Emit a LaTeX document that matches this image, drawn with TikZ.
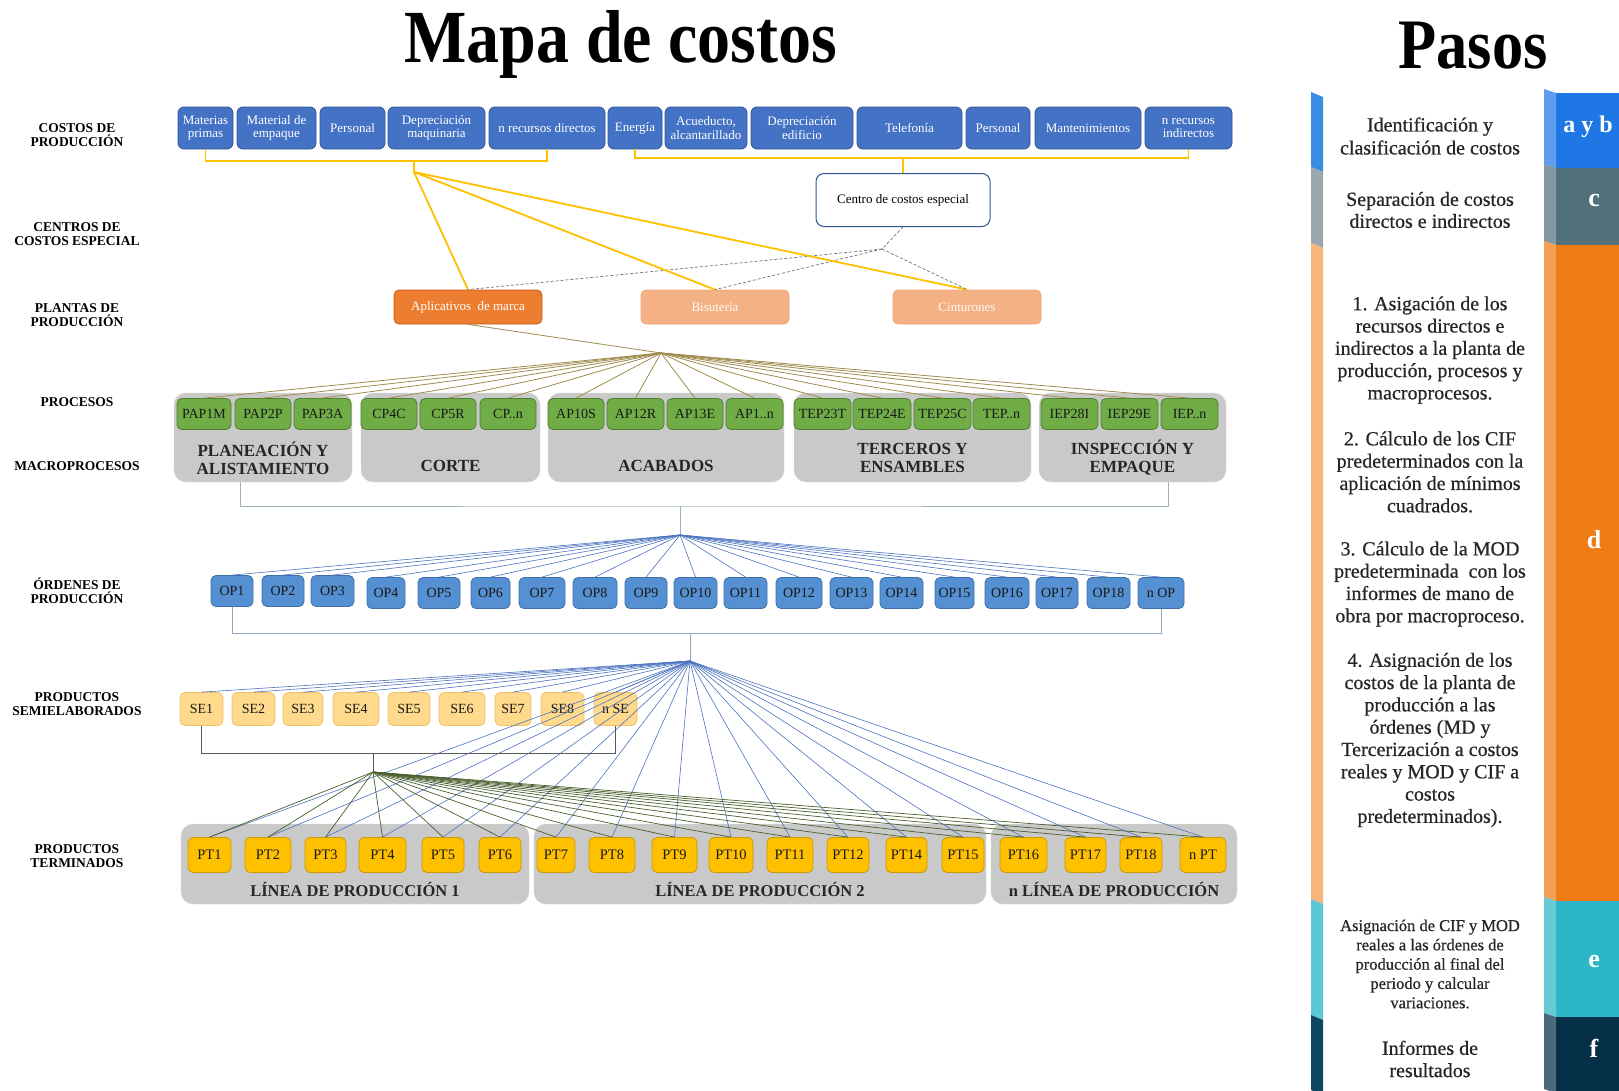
\documentclass[tikz,border=0pt]{standalone}
\usepackage{fontspec}
\usepackage{graphicx}
\setmainfont{Liberation Serif}
\newfontfamily\stepfont{Liberation Serif}[FakeBold=0.6]

\definecolor{costblue}{HTML}{4472C4}
\definecolor{costline}{HTML}{2F5597}
\definecolor{plantA}{HTML}{ED7D31}
\definecolor{plantAline}{HTML}{C55A11}
\definecolor{plantB}{HTML}{F4B183}
\definecolor{plantBline}{HTML}{EFA578}
\definecolor{procgreen}{HTML}{70AD47}
\definecolor{procline}{HTML}{507E32}
\definecolor{macrogray}{HTML}{C9C9C9}
\definecolor{opblue}{HTML}{5590D2}
\definecolor{opline}{HTML}{3E6FA8}
\definecolor{semiyellow}{HTML}{FFD98C}
\definecolor{semiline}{HTML}{F0C26A}
\definecolor{termyellow}{HTML}{FFC000}
\definecolor{termline}{HTML}{C99A06}
\definecolor{goldcol}{HTML}{FFC000}
\definecolor{procwirecol}{HTML}{A08C4F}
\definecolor{bluewirecol}{HTML}{4A72C0}
\definecolor{macrobrcol}{HTML}{9FB3BF}
\definecolor{opbrcol}{HTML}{8EA6C2}
\definecolor{greenwirecol}{HTML}{4B5F2D}
\definecolor{thinab}{HTML}{3B8DE3}
\definecolor{thinc}{HTML}{9AA8AE}
\definecolor{thind}{HTML}{F6B67C}
\definecolor{thine}{HTML}{5CC8D7}
\definecolor{thinf}{HTML}{0F4661}
\definecolor{stepab}{HTML}{1F77E6}
\definecolor{stepc}{HTML}{52707B}
\definecolor{stepd}{HTML}{EE7B14}
\definecolor{stepe}{HTML}{2DB6C8}
\definecolor{stepf}{HTML}{062F48}

\begin{document}
\begin{tikzpicture}[x=1pt,y=-1pt,
    headline/.style={font=\bfseries\fontsize{75}{80}\selectfont},
    rowlabel/.style={font=\bfseries\fontsize{13.5}{14.5}\selectfont,align=center},
    costbox/.style={draw=costline,fill=costblue,line width=.8pt,rounded corners=6pt,
      text=white,align=center,inner sep=1pt,minimum height=42pt,
      font=\fontsize{13}{13.5}\selectfont},
    centrobox/.style={draw=costline,fill=white,line width=1pt,rounded corners=8pt,
      minimum width=174pt,minimum height=53pt,font=\fontsize{13}{14}\selectfont},
    plantbox/.style={rounded corners=5pt,line width=.8pt,minimum width=148pt,
      minimum height=34pt,font=\fontsize{13}{14}\selectfont},
    procbox/.style={draw=procline,fill=procgreen,line width=.8pt,rounded corners=5pt,
      minimum height=31pt,inner sep=1pt,text=black!90,font=\fontsize{14}{15}\selectfont},
    macrobox/.style={fill=macrogray,draw=black!15,rounded corners=12pt,minimum height=89pt},
    macrolabel/.style={font=\bfseries\fontsize{17}{18}\selectfont,align=center,text=black!85},
    opbox/.style={draw=opline,fill=opblue,line width=.8pt,rounded corners=5pt,
      minimum height=31pt,inner sep=1pt,text=black!90,font=\fontsize{14}{15}\selectfont},
    semibox/.style={draw=semiline,fill=semiyellow,line width=.8pt,rounded corners=5pt,
      minimum height=33pt,inner sep=1pt,text=black!90,font=\fontsize{14}{15}\selectfont},
    termbox/.style={draw=termline,fill=termyellow,line width=.8pt,rounded corners=5pt,
      minimum height=35pt,inner sep=1pt,text=black!90,font=\fontsize{14.5}{15}\selectfont},
    linebox/.style={fill=macrogray,draw=black!15,rounded corners=12pt,minimum height=80pt},
    goldwire/.style={draw=goldcol,line width=1.8pt},
    dashwire/.style={draw=black!55,line width=.7pt,dash pattern=on 3pt off 2pt},
    procwire/.style={draw=procwirecol,line width=.8pt},
    bluewire/.style={draw=bluewirecol,line width=.6pt},
    greenwire/.style={draw=greenwirecol,line width=.7pt},
    macrobracket/.style={draw=macrobrcol,line width=1pt},
    opbracket/.style={draw=opbrcol,line width=1pt},
    semibracket/.style={draw=black!65,line width=.8pt},
    steptext/.style={text=black!85,align=center,font=\stepfont\fontsize{20}{22.3}\selectfont},
    stepletter/.style={text=white,font=\bfseries\fontsize{26}{28}\selectfont}]

  \useasboundingbox (0,0) rectangle (1619,1090);
  \fill[white] (0,0) rectangle (1619,1090);

  % titles
  \node[headline,anchor=base] (maptitle) at (621,62) {\scalebox{0.88}[1]{Mapa de costos}};
  \node[headline,anchor=base,font=\bfseries\fontsize{71}{76}\selectfont] (steptitle) at (1473,68)
    {\scalebox{0.88}[1]{Pasos}};

  % row labels
  \node[rowlabel] (rl1) at (77,135) {COSTOS DE\\PRODUCCIÓN};
  \node[rowlabel] (rl2) at (77,234) {CENTROS DE\\COSTOS ESPECIAL};
  \node[rowlabel] (rl3) at (77,315) {PLANTAS DE\\PRODUCCIÓN};
  \node[rowlabel] (rl4) at (77,402) {PROCESOS};
  \node[rowlabel] (rl5) at (77,466) {MACROPROCESOS};
  \node[rowlabel] (rl6) at (77,591) {ÓRDENES DE\\PRODUCCIÓN};
  \node[rowlabel] (rl7) at (77,704) {PRODUCTOS\\SEMIELABORADOS};
  \node[rowlabel] (rl8) at (77,856) {PRODUCTOS\\TERMINADOS};

  % costs
  \foreach \a/\b/\t [count=\i] in {178/233/{Materias\\primas},237/316/{Material de\\empaque},
      320/385/Personal,388/485/{Depreciación\\maquinaria},489/605/{n recursos directos},
      608/662/Energía,665/747/{Acueducto,\\alcantarillado},751/853/{Depreciación\\edificio},
      857/962/Telefonía,966/1030/Personal,1035/1141/Mantenimientos,
      1145/1232/{n recursos\\indirectos}}
    \node[costbox,minimum width={(\b-\a)*1pt}] (cost\i) at ({(\a+\b)/2},128) {\t};

  \node[centrobox] (centro) at (903,200) {Centro de costos especial};

  % plants
  \node[plantbox,draw=plantAline,fill=plantA,text=white] (apl) at (468,307) {Aplicativos\ \ de marca};
  \node[plantbox,draw=plantBline,fill=plantB,text=white!92!plantB] (bis) at (715,307) {Bisutería};
  \node[plantbox,draw=plantBline,fill=plantB,text=white!92!plantB] (cin) at (967,307) {Cinturones};

  % macroprocesses
  \foreach \a/\b/\t/\y [count=\i] in {174/352/{PLANEACIÓN Y\\ALISTAMIENTO}/458,361/540/CORTE/466,
      548/784/ACABADOS/466,794/1031/{TERCEROS Y\\ENSAMBLES}/458,1039/1226/{INSPECCIÓN Y\\EMPAQUE}/458}
  {
    \node[macrobox,minimum width={(\b-\a)*1pt}] (macro\i) at ({(\a+\b)/2},437.5) {};
    \node[macrolabel] (macrot\i) at ({(\a+\b)/2},\y) {\t};
  }

  % processes
  \foreach \a/\b/\t [count=\i] in {177/231/PAP1M,235/291/PAP2P,294/351/PAP3A,361/417/CP4C,
      420/476/CP5R,480/536/{CP..n},548/604/AP10S,607/664/AP12R,667/723/AP13E,726/783/{AP1..n},
      794/851/TEP23T,853/911/TEP24E,914/971/TEP25C,973/1030/{TEP..n},1041/1098/IEP28I,
      1101/1158/IEP29E,1161/1218/{IEP..n}}
    \node[procbox,minimum width={(\b-\a)*1pt}] (proc\i) at ({(\a+\b)/2},414) {\t};

  % orders
  \foreach \a/\b/\t/\y [count=\i] in {211/253/OP1/591,262/304/OP2/591,311/354/OP3/591,
      367/405/OP4/593,418/460/OP5/593,471/510/OP6/593,519/565/OP7/593,573/617/OP8/593,
      625/667/OP9/593,674/717/OP10/593,724/767/OP11/593,776/822/OP12/593,830/873/OP13/593,
      880/923/OP14/593,935/974/OP15/593,985/1029/OP16/593,1036/1078/OP17/593,
      1087/1130/OP18/593,1138/1184/{n OP}/593}
    \node[opbox,minimum width={(\b-\a)*1pt}] (op\i) at ({(\a+\b)/2},\y) {\t};

  % semi-finished
  \foreach \a/\b/\t [count=\i] in {180/223/SE1,232/275/SE2,283/323/SE3,333/379/SE4,388/430/SE5,
      439/485/SE6,495/531/SE7,541/584/SE8,594/637/{n SE}}
    \node[semibox,minimum width={(\b-\a)*1pt}] (se\i) at ({(\a+\b)/2},709) {\t};

  % production lines
  \foreach \a/\b/\t [count=\i] in {181/529/{LÍNEA DE PRODUCCIÓN 1},534/986/{LÍNEA DE PRODUCCIÓN 2},
      991/1237/{n LÍNEA DE PRODUCCIÓN}}
  {
    \node[linebox,minimum width={(\b-\a)*1pt}] (lin\i) at ({(\a+\b)/2},864) {};
    \node[macrolabel,font=\bfseries\fontsize{16.5}{17}\selectfont] (lint\i) at ({(\a+\b)/2},889) {\t};
  }

  % finished
  \foreach \a/\b/\t [count=\i] in {188/231/PT1,245/291/PT2,305/346/PT3,359/406/PT4,422/464/PT5,
      479/521/PT6,537/575/PT7,589/635/PT8,652/697/PT9,709/753/PT10,767/813/PT11,827/869/PT12,
      886/927/PT14,942/984/PT15,1000/1047/PT16,1065/1106/PT17,1120/1162/PT18,1180/1226/{n PT}}
    \node[termbox,minimum width={(\b-\a)*1pt}] (pt\i) at ({(\a+\b)/2},855) {\t};

  % connectors
  \coordinate (costdir) at (414,161);
  \coordinate (hubdir) at (414,172);
  \coordinate (costind) at (903,158);
  \coordinate (hubesp) at (882,249);
  \draw[goldwire] (cost1.south) |- (costdir) -| (cost5.south);
  \draw[goldwire] (costdir) -- (hubdir);
  \draw[goldwire] (cost6.south) |- (costind) -| (cost12.south);
  \draw[goldwire] (costind) -- (centro.north);
  \draw[dashwire] (centro.south) -- (hubesp);
  \foreach \p in {apl,bis,cin}
  {
    \draw[goldwire] (hubdir) -- (\p.north);
    \draw[dashwire] (hubesp) -- (\p.north);
  }

  \coordinate (hubproc) at (661,353);
  \draw[procwire] (apl.south) -- (hubproc);
  \foreach \i in {1,...,17}
    \draw[procwire] (hubproc) -- (proc\i.north);

  \coordinate (macroleft) at (240,482);
  \coordinate (macroright) at (1168,482);
  \coordinate (macromid) at (680,506);
  \coordinate (hubop) at (680,535);
  \draw[macrobracket] (macroleft) |- (macromid) -| (macroright);
  \draw[macrobracket] (macromid) -- (hubop);
  \foreach \i in {1,...,19}
    \draw[bluewire] (hubop) -- (op\i.north);

  \coordinate (opmid) at (690,633);
  \coordinate (hubsemi) at (690,661);
  \draw[opbracket] (op1.south) |- (opmid) -| (op19.south);
  \draw[opbracket] (opmid) -- (hubsemi);
  \foreach \i in {1,...,9}
    \draw[bluewire] (hubsemi) -- (se\i.north);
  \foreach \i in {1,...,18}
    \draw[bluewire] (hubsemi) -- (pt\i.north);

  \coordinate (semid) at (373,753);
  \coordinate (hubterm) at (373,772);
  \draw[semibracket] (se1.south) |- (semid) -| (se9.south);
  \draw[semibracket] (semid) -- (hubterm);
  \foreach \i in {1,...,18}
    \draw[greenwire] (hubterm) -- (pt\i.north);

  % steps panel
  \foreach \t/\b/\c in {95/170/thinab,170/246/thinc,246/902/thind,902/1018/thine,1018/1093/thinf}
    \fill[\c] (1311,\t-3) -- (1323,\t+2) -- (1323,\b+2) -- (1311,\b-3) -- cycle;
  \foreach \t/\b/\c in {93/168/stepab,168/245/stepc,245/901/stepd,901/1017/stepe,1017/1093/stepf}
  {
    \fill[\c] (1556,\t) rectangle (1619,\b);
    \fill[\c!72!white] (1544,\t-4) -- (1556,\t) -- (1556,\b) -- (1544,\b-4) -- cycle;
  }
  \node[stepletter,inner sep=0pt,font=\bfseries\fontsize{24}{26}\selectfont] (lab) at (1588,127) {a y b};
  \node[stepletter] (lc) at (1594,200) {c};
  \node[stepletter] (ld) at (1594,540) {d};
  \node[stepletter] (le) at (1594,961) {e};
  \node[stepletter] (lf) at (1594,1048) {f};

  \node[steptext,font=\stepfont\fontsize{20}{23}\selectfont] (sab) at (1430,136)
    {Identificación y\\clasificación de costos};
  \node[steptext,font=\stepfont\fontsize{20}{22}\selectfont] (sc) at (1430,210)
    {Separación de costos\\directos e indirectos};
  \node[steptext] (sd1) at (1430,350)
    {1. Asigación de los\\recursos directos e\\indirectos a la planta de\\producción, procesos y\\macroprocesos.};
  \node[steptext] (sd2) at (1430,472)
    {2. Cálculo de los CIF\\predeterminados con la\\aplicación de mínimos\\cuadrados.};
  \node[steptext] (sd3) at (1430,584)
    {3. Cálculo de la MOD\\predeterminada\ \ con los\\informes de mano de\\obra por macroproceso.};
  \node[steptext] (sd4) at (1430,740)
    {4. Asignación de los\\costos de la planta de\\producción a las\\órdenes (MD y\\Tercerización a costos\\reales y MOD y CIF a\\costos\\predeterminados).};
  \node[steptext,font=\stepfont\fontsize{16.5}{19.3}\selectfont] (se) at (1430,964)
    {Asignación de CIF y MOD\\reales a las órdenes de\\producción al final del\\periodo y calcular\\variaciones.};
  \node[steptext] (sf) at (1430,1059) {Informes de\\resultados};
\end{tikzpicture}
\end{document}
